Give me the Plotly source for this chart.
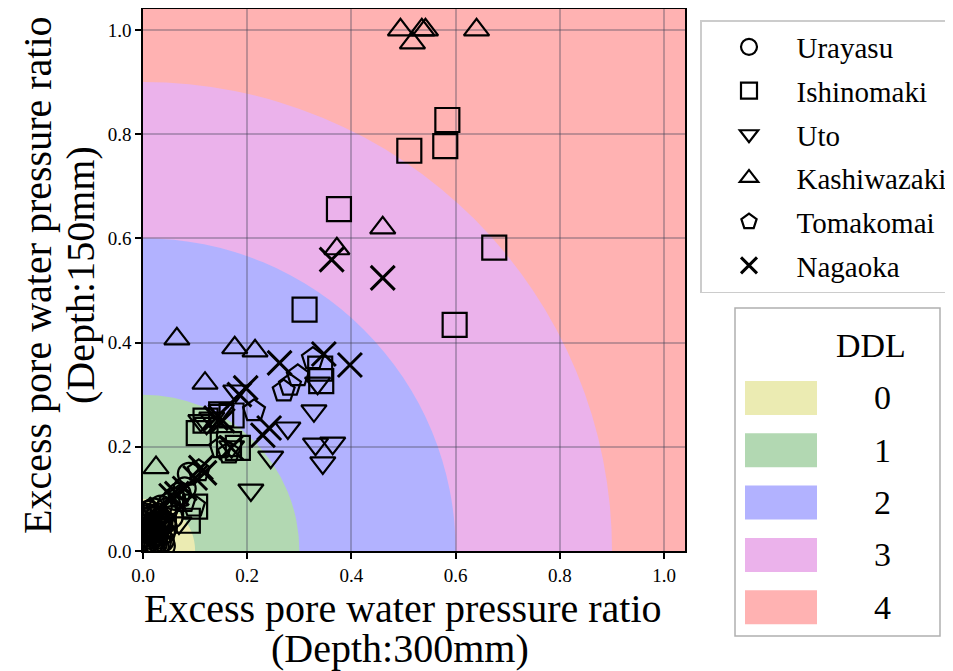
import plotly.graph_objects as go

# ---------------- data ----------------
sites = ["Urayasu", "Ishinomaki", "Uto", "Kashiwazaki", "Tomakomai", "Nagaoka"]

urayasu_x = [0.004, 0.008, 0.010, 0.012, 0.015, 0.018, 0.020, 0.022, 0.025, 0.028, 0.030, 0.010, 0.020, 0.032,
             0.036, 0.040, 0.015, 0.026, 0.045, 0.050, 0.060, 0.070, 0.080, 0.088, 0.055, 0.034, 0.018, 0.042,
             0.006, 0.012, 0.016, 0.024, 0.030, 0.038, 0.008, 0.014, 0.022, 0.028, 0.035, 0.005, 0.018, 0.026,
             0.044, 0.040]
urayasu_y = [0.010, 0.030, 0.050, 0.020, 0.065, 0.040, 0.010, 0.055, 0.030, 0.070, 0.045, 0.075, 0.080, 0.015,
             0.060, 0.035, 0.005, 0.025, 0.080, 0.090, 0.100, 0.110, 0.120, 0.148, 0.065, 0.085, 0.045, 0.055,
             0.060, 0.068, 0.035, 0.012, 0.060, 0.020, 0.045, 0.025, 0.040, 0.008, 0.050, 0.070, 0.015, 0.065,
             0.045, 0.010]

ishinomaki_x = [0.584, 0.511, 0.580, 0.376, 0.674, 0.310, 0.598, 0.340, 0.342, 0.107, 0.120, 0.150, 0.170,
                0.182, 0.165, 0.086, 0.100, 0.030, 0.020]
ishinomaki_y = [0.827, 0.768, 0.777, 0.656, 0.582, 0.463, 0.434, 0.350, 0.326, 0.226, 0.250, 0.262, 0.260,
                0.198, 0.205, 0.058, 0.085, 0.040, 0.060]

uto_x = [0.178, 0.335, 0.328, 0.278, 0.331, 0.364, 0.345, 0.245, 0.207, 0.111, 0.122, 0.132, 0.170, 0.069,
         0.150, 0.030]
uto_y = [0.307, 0.322, 0.269, 0.236, 0.205, 0.207, 0.169, 0.180, 0.117, 0.250, 0.245, 0.255, 0.200, 0.054,
         0.270, 0.030]

kashiwazaki_x = [0.494, 0.517, 0.535, 0.542, 0.640, 0.460, 0.372, 0.065, 0.176, 0.215, 0.119, 0.025]
kashiwazaki_y = [1.000, 0.975, 1.000, 1.000, 1.000, 0.620, 0.580, 0.407, 0.390, 0.384, 0.322, 0.160]

tomakomai_x = [0.326, 0.297, 0.270, 0.282, 0.213, 0.149, 0.165, 0.107, 0.098, 0.080, 0.070, 0.020, 0.030]
tomakomai_y = [0.369, 0.336, 0.307, 0.318, 0.269, 0.198, 0.188, 0.154, 0.086, 0.095, 0.105, 0.030, 0.050]

nagaoka_x = [0.362, 0.460, 0.262, 0.347, 0.397, 0.197, 0.230, 0.242, 0.140, 0.153, 0.169, 0.111, 0.118,
             0.054, 0.100, 0.080, 0.065, 0.185, 0.035, 0.020]
nagaoka_y = [0.559, 0.524, 0.361, 0.378, 0.357, 0.313, 0.222, 0.236, 0.255, 0.250, 0.198, 0.160, 0.150,
             0.106, 0.140, 0.120, 0.110, 0.300, 0.080, 0.060]

ddl_levels = ["0", "1", "2", "3", "4"]
ddl_radii = [0.1, 0.3, 0.6, 0.9]          # outer boundary of DDL 0..3; DDL 4 beyond
ddl_colors = ["#ebebb2", "#b2d8b2", "#b2b2ff", "#ebb2eb", "#ffb2b2"]

tick_vals = [0.0, 0.2, 0.4, 0.6, 0.8, 1.0]
tick_text = ["0.0", "0.2", "0.4", "0.6", "0.8", "1.0"]

# ---------------- layout geometry (reference pixels; page body adds an 8px offset) ----------------
OFF = 8
W, H = 953 - OFF, 671 - OFF
REF_L, REF_R, REF_T, REF_B = 143, 685, 9, 551
L, R, T, B = REF_L - OFF, REF_R - OFF, REF_T - OFF, REF_B - OFF
FONT = "'Liberation Serif', 'Times New Roman', Times, serif"


def px_x(px):
    return (px - OFF - L) / (R - L)


def px_y(py):
    return (B - (py - OFF)) / (B - T)


fig = go.Figure()

site_data = [
    (urayasu_x, urayasu_y, dict(symbol="circle-open", size=22, color="black", line=dict(width=2.2, color="black"))),
    (ishinomaki_x, ishinomaki_y, dict(symbol="square-open", size=24, color="black", line=dict(width=2.2, color="black"))),
    (uto_x, uto_y, dict(symbol="triangle-down-open", size=22, color="black", line=dict(width=2.2, color="black"))),
    (kashiwazaki_x, kashiwazaki_y, dict(symbol="triangle-up-open", size=22, color="black", line=dict(width=2.2, color="black"))),
    (tomakomai_x, tomakomai_y, dict(symbol="pentagon-open", size=23, color="black", line=dict(width=2.2, color="black"))),
    (nagaoka_x, nagaoka_y, dict(symbol="x-thin", size=24, color="black", line=dict(width=3, color="black"))),
]

for i, (name, (xs, ys, mk)) in enumerate(zip(sites, site_data)):
    fig.add_trace(go.Scatter(x=xs, y=ys, mode="markers", name=name, marker=mk,
                             legendgroup=f"g{i}", cliponaxis=True))

# DDL regions: quarter circles centred at origin
shapes = []
for r, c in sorted(zip(ddl_radii, ddl_colors[:4]), key=lambda t: -t[0]):
    shapes.append(dict(type="circle", xref="x", yref="y", x0=-r, y0=-r, x1=r, y1=r,
                       fillcolor=c, line=dict(width=0), layer="below"))

# DDL legend (box, patches, labels)
box_l, box_r, box_t, box_b = 735, 940, 308, 636
shapes.append(dict(type="rect", xref="paper", yref="paper",
                   x0=px_x(box_l), x1=px_x(box_r), y0=px_y(box_b), y1=px_y(box_t),
                   fillcolor="white", line=dict(color="#b0b0b0", width=1.5), layer="above"))
annotations = [dict(text="DDL", xref="paper", yref="paper", x=px_x(871), y=px_y(345),
                    showarrow=False, font=dict(family=FONT, size=34, color="black"),
                    xanchor="center", yanchor="middle")]
row0, row_gap = 398, 52.3
for i, (lab, col) in enumerate(zip(ddl_levels, ddl_colors)):
    cy = row0 + i * row_gap
    shapes.append(dict(type="rect", xref="paper", yref="paper",
                       x0=px_x(745), x1=px_x(817), y0=px_y(cy + 17), y1=px_y(cy - 17),
                       fillcolor=col, line=dict(width=0), layer="above"))
    annotations.append(dict(text=lab, xref="paper", yref="paper", x=px_x(882), y=px_y(cy),
                            showarrow=False, font=dict(family=FONT, size=34, color="black"),
                            xanchor="center", yanchor="middle"))

# axis titles as two-line annotations
title_font = dict(family=FONT, size=40, color="black")
annotations += [
    dict(text="Excess pore water pressure ratio", xref="paper", yref="paper", x=px_x(403), y=px_y(608),
         showarrow=False, font=title_font, xanchor="center", yanchor="middle"),
    dict(text="(Depth:300mm)", xref="paper", yref="paper", x=px_x(400), y=px_y(648),
         showarrow=False, font=title_font, xanchor="center", yanchor="middle"),
    dict(text="Excess pore water pressure ratio", xref="paper", yref="paper", x=px_x(37), y=px_y(275),
         showarrow=False, font=title_font, xanchor="center", yanchor="middle", textangle=-90),
    dict(text="(Depth:150mm)", xref="paper", yref="paper", x=px_x(80), y=px_y(275),
         showarrow=False, font=title_font, xanchor="center", yanchor="middle", textangle=-90),
]

axis_common = dict(
    range=[0, 1.04], tickvals=tick_vals, ticktext=tick_text,
    showgrid=True, gridcolor="rgba(70,70,90,0.35)", gridwidth=1.5,
    zeroline=False, showline=True, linecolor="black", linewidth=1.5, mirror=True,
    ticks="outside", ticklen=6, tickwidth=1.5, tickcolor="black",
    tickfont=dict(family=FONT, size=19, color="black"),
)

fig.update_layout(
    width=W, height=H,
    margin=dict(l=L, r=W - R, t=T, b=H - B, autoexpand=False),
    paper_bgcolor="white",
    plot_bgcolor=ddl_colors[4],
    xaxis=axis_common,
    yaxis=axis_common,
    shapes=shapes,
    annotations=annotations,
    showlegend=True,
    legend=dict(x=px_x(700), y=px_y(20), xanchor="left", yanchor="top",
                font=dict(family=FONT, size=29, color="black"),
                bgcolor="rgba(255,255,255,0.85)", bordercolor="#cccccc", borderwidth=1.5,
                itemwidth=85, tracegroupgap=3, itemsizing="trace"),
    font=dict(family=FONT),
)

fig.write_html("out.html")
